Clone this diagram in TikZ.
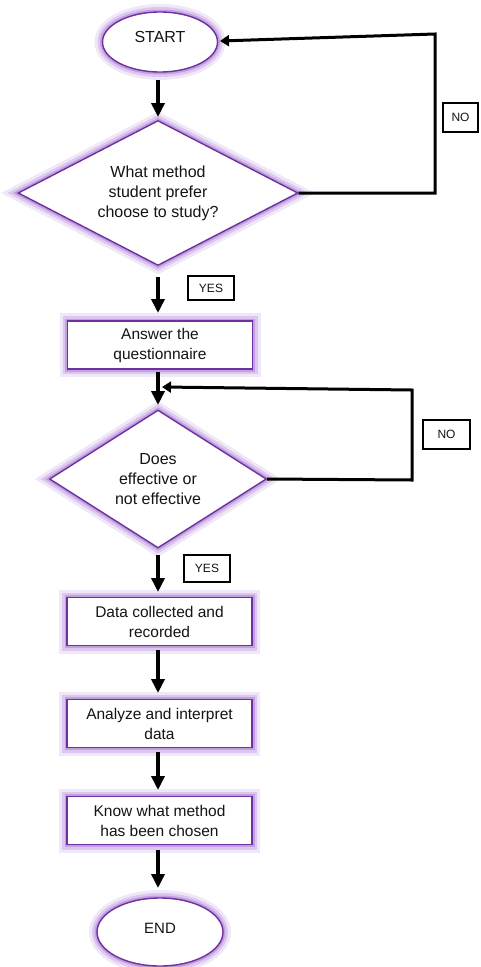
\documentclass[tikz,border=0pt]{standalone}
\usepackage{fontspec}
\setmainfont{Liberation Sans}
\usetikzlibrary{shapes.geometric,arrows.meta}
\definecolor{pur}{RGB}{112,48,160}
\definecolor{glowA}{RGB}{240,231,248}
\definecolor{glowB}{RGB}{220,200,238}
\definecolor{glowC}{RGB}{192,160,224}
\definecolor{txt}{RGB}{20,20,20}
\begin{document}
\begin{tikzpicture}[x=1pt,y=-1pt,
  glow/.style={preaction={draw=glowA,line width=16pt},
               preaction={draw=glowB,line width=10pt},
               preaction={draw=glowC,line width=5pt}},
  shp/.style={glow,draw=pur,line width=1.4pt,fill=white,text=txt,inner sep=0pt,align=center},
  procbox/.style={shp,rectangle,minimum width=185pt,minimum height=48pt,font={\fontsize{15.5}{20}\selectfont}},
  decbox/.style={shp,diamond,font={\fontsize{16}{20}\selectfont}},
  termbox/.style={shp,ellipse},
  lbl/.style={draw=black,line width=1.1pt,fill=white,text=txt,inner sep=0pt,font={\fontsize{12}{14}\selectfont}},
  arr/.style={line width=3.8pt,-{Triangle[length=14pt,width=13pt]}},
  back/.style={line width=3pt,-{Triangle[length=9pt,width=11pt]}}
]
\useasboundingbox (0,0) rectangle (480,967);

\node[termbox,minimum width=115pt,minimum height=60pt,font={\fontsize{16}{18}\selectfont}] (start) at (160,42) {\raisebox{10pt}{START}};
\node[decbox,shape aspect=2,minimum width=280pt,minimum height=145pt] (d1) at (158,193) {What method\\student prefer\\choose to study?};
\node[procbox] (ans) at (160,345) {Answer the\\questionnaire};
\node[decbox,shape aspect=1.6,minimum width=217pt,minimum height=138pt] (d2) at (158,479) {Does\\effective or\\not effective};
\node[procbox] (data) at (159.5,621.5) {Data collected and\\recorded};
\node[procbox] (ana) at (159.5,723.5) {Analyze and interpret\\data};
\node[procbox] (know) at (159.5,820.5) {Know what method\\has been chosen};
\node[termbox,minimum width=126pt,minimum height=68pt,font={\fontsize{15}{17}\selectfont}] (end) at (160,932) {\raisebox{8pt}{END}};

\node[lbl,minimum width=46pt,minimum height=24pt] (yes1) at (211,288) {YES};
\node[lbl,minimum width=35pt,minimum height=29pt] (no1) at (460.5,117.5) {NO};
\node[lbl,minimum width=47pt,minimum height=29pt] (no2) at (446.5,434.5) {NO};
\node[lbl,minimum width=46pt,minimum height=27pt] (yes2) at (207,568.5) {YES};

\coordinate (a1) at (158,80);  \coordinate (b1) at (158,117);
\coordinate (a2) at (158,277); \coordinate (b2) at (158,313);
\coordinate (a3) at (158,372); \coordinate (b3) at (158,405);
\coordinate (a4) at (158,555); \coordinate (b4) at (158,592);
\coordinate (a5) at (158,650); \coordinate (b5) at (158,693);
\coordinate (a6) at (158,752); \coordinate (b6) at (158,790);
\coordinate (a7) at (158,850); \coordinate (b7) at (158,888);

\draw[arr] (a1) -- (b1);
\draw[arr] (a2) -- (b2);
\draw[arr] (a3) -- (b3);
\draw[arr] (a4) -- (b4);
\draw[arr] (a5) -- (b5);
\draw[arr] (a6) -- (b6);
\draw[arr] (a7) -- (b7);

\coordinate (c1) at (435,193);
\coordinate (c2) at (435,34);
\coordinate (s1) at (220,41);
\draw[back] (d1.east) -- (c1) -- (c2) -- (s1);

\coordinate (e1) at (412,480);
\coordinate (e2) at (412,390);
\coordinate (s2) at (162,387);
\draw[back] (d2.east) -- (e1) -- (e2) -- (s2);
\end{tikzpicture}
\end{document}
